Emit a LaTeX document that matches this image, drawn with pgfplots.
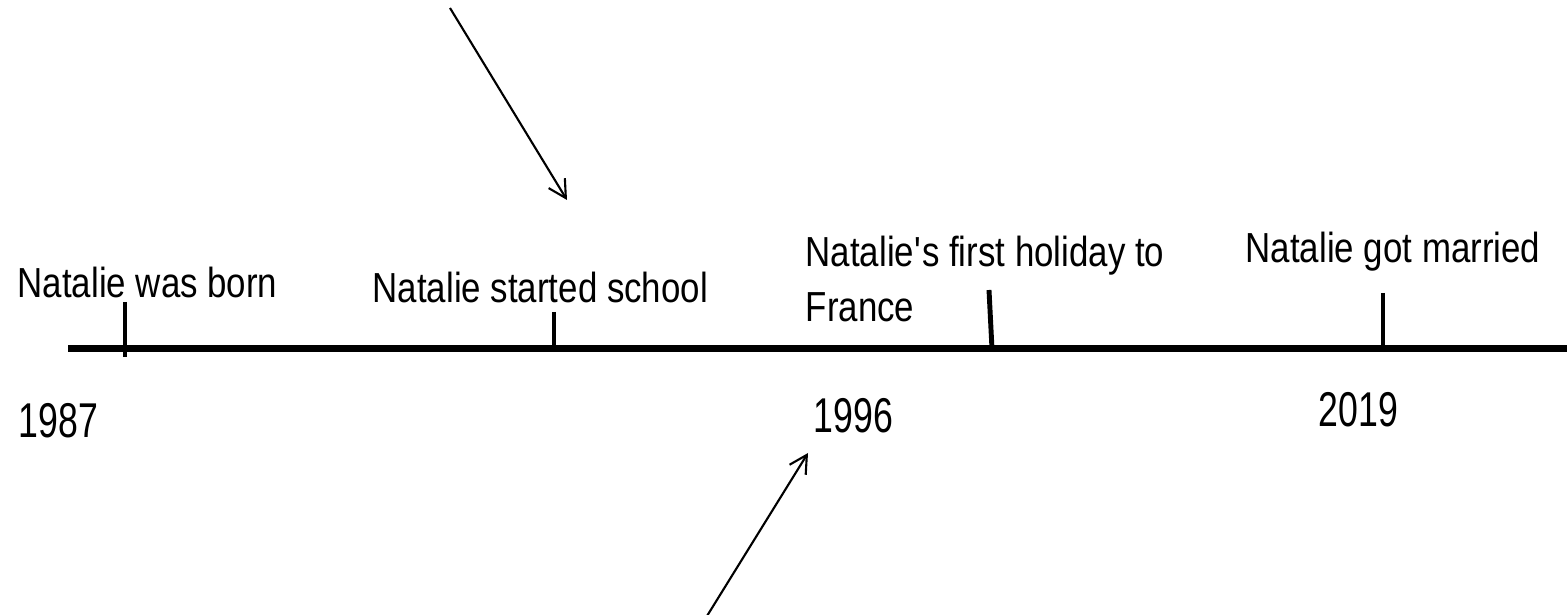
\documentclass[border=0pt]{standalone}
\usepackage{fontspec}
\setmainfont[FakeStretch=0.83]{Liberation Sans}
\newfontfamily\yearfont[FakeStretch=0.73]{Liberation Sans}
\usepackage{pgfplots}
\pgfplotsset{compat=1.18}
\usetikzlibrary{arrows.meta}
\begin{document}
\begin{tikzpicture}
\begin{axis}[name=ax, scale only axis, width=15.67cm, height=6.15cm,
  xmin=0, xmax=1567, ymin=0, ymax=615, y dir=reverse, hide axis, clip=false]
% timeline
\addplot[black, line width=2pt] coordinates {(68,348.5) (1567,348.5)};
% event ticks
\addplot[black, line width=1.4pt] coordinates {(125,302) (125,357)};
\addplot[black, line width=1.4pt] coordinates {(554,312) (554,349)};
\addplot[black, line width=1.4pt] coordinates {(989,290) (992,349)};
\addplot[black, line width=1.4pt] coordinates {(1383,293) (1383,349)};
% arrows
\addplot[black, line width=0.6pt, -{Straight Barb[length=1.75mm,width=1.9mm]}] coordinates {(450,8) (567,200)};
\addplot[black, line width=0.6pt, -{Straight Barb[length=1.75mm,width=1.9mm]}] coordinates {(707,616) (808,453)};
% labels
\begin{scope}[every node/.style={anchor=base west, inner sep=0pt, font=\fontsize{11.95}{14}\selectfont}]
\node at (axis cs:17,298) {Natalie was born};
\node at (axis cs:372,303) {Natalie started school};
\node at (axis cs:805,267) {Natalie\textquotesingle s first holiday to};
\node at (axis cs:805,322) {France};
\node at (axis cs:1245,263) {Natalie got married};
\end{scope}
\begin{scope}[every node/.style={anchor=base west, inner sep=0pt, font=\yearfont\fontsize{13.9}{16}\selectfont}]
\node at (axis cs:18,438) {1987};
\node at (axis cs:813,432) {1996};
\node at (axis cs:1318,427) {2019};
\end{scope}
\end{axis}
\pgfresetboundingbox
\path (ax.south west) rectangle (ax.north east);
\end{tikzpicture}
\end{document}
